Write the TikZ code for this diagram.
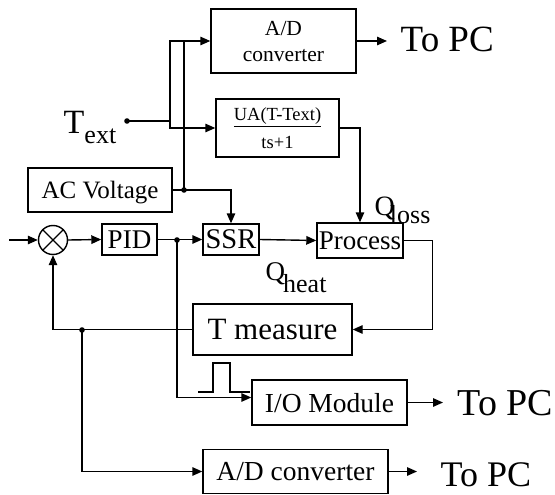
\documentclass[tikz,border=0pt]{standalone}
\usepackage{fontspec}
\setmainfont{Liberation Serif}
\usetikzlibrary{arrows.meta,calc}
\newcommand{\fsz}[1]{\fontsize{#1}{#1}\selectfont}
\begin{document}
\begin{tikzpicture}[x=1pt,y=-1pt,
  line width=1.4pt,
  arr/.style={-{Triangle[length=10pt,width=8.5pt]}},
  box/.style={draw,rectangle,inner sep=0pt,text depth=0pt,line width=1.4pt},
  lbl/.style={inner sep=0pt,anchor=base west}]
\useasboundingbox (0,0) rectangle (555,495);
% boxes
\node[box,minimum width=145,minimum height=64,align=center,font=\fontsize{21.5}{26}\selectfont] (ad1) at (283.5,41) {A/D\\converter};
\node[box,minimum width=123,minimum height=58,align=center,font=\fontsize{18.5}{28}\selectfont] (ua) at (277.5,128) {\underline{UA(T-Text)}\\ts+1};
\node[box,minimum width=144,minimum height=44,font=\fsz{25}] (ac) at (100,190) {AC Voltage};
\node[draw,circle,minimum size=29pt,inner sep=0pt] (sum) at (53,240) {};
\draw (sum.north west) -- (sum.south east) (sum.north east) -- (sum.south west);
\node[box,minimum width=55,minimum height=31,font=\fsz{27}] (pid) at (129.5,239.5) {PID};
\node[box,minimum width=56,minimum height=31,font=\fsz{28.5}] (ssr) at (231,239.5) {SSR};
\node[box,minimum width=86,minimum height=35,font=\fsz{27}] (proc) at (360,240.5) {Process};
\node[box,minimum width=159,minimum height=51,font=\fsz{31}] (tm) at (272.5,329.5) {T measure};
\node[box,minimum width=155,minimum height=45,font=\fsz{27.5}] (io) at (329.5,402.5) {I/O Module};
\node[box,minimum width=185,minimum height=44,font=\fsz{27.5}] (ad2) at (295.5,471.5) {A/D converter};
% labels
\node[lbl,font=\fsz{37}] (pc1) at (400,52) {To PC};
\node[lbl,font=\fsz{38}] (pc2) at (457,415) {To PC};
\node[lbl,font=\fsz{36}] (pc3) at (440,486) {To PC};
\node[lbl] (text) at (63,133) {\fsz{34}T\raisebox{-10pt}{\fsz{26}ext}};
\node[lbl] (qloss) at (374,215) {\fsz{28}Q\kern-5pt\raisebox{-8pt}{\fsz{26}loss}};
\node[lbl] (qheat) at (265,280) {\fsz{27}Q\kern-2pt\raisebox{-12pt}{\fsz{26}heat}};
% coordinates
\coordinate (tdot) at (127,121);
\coordinate (j1) at (170,121);
\coordinate (acdot) at (184,190);
\coordinate (pdot) at (177,240);
\coordinate (fdot) at (82,330);
\coordinate (in) at (9,240);
% wiring
\draw[arr] (tdot) -- (j1) |- (ad1.west);
\draw[arr] (j1) |- (ua.west);
\draw (acdot) -- (acdot |- ad1.west);
\draw[arr] (ac.east) -| (ssr.north);
\draw[arr] (ua.east) -| (proc.north);
\draw[arr] (in) -- (sum.west);
\draw[arr] (sum.east) -- (pid.west);
\draw[arr] (pid.east) -- (ssr.west);
\draw[arr] (ssr.east) -- (proc.west);
\draw[arr] (proc.east) -- ++(29,0) |- (tm.east);
\draw[arr] (tm.west) -| (sum.south);
\draw[arr] (fdot) |- (ad2.west);
\draw[arr] (pdot) |- ([yshift=5pt]io.west);
\draw[arr] (ad1.east) -- ($(ad1.east -| pc1.west)+(-13,0)$);
\draw[arr] (io.east) -- ($(io.east -| pc2.west)+(-14,0)$);
\draw[arr] (ad2.east) -- ($(ad2.east -| pc3.west)+(-23,0)$);
% pulse symbol
\draw[line width=1.2pt] (198,392) -- (213,392) -- (213,363) -- (230,363) -- (230,392) -- (250,392);
% dots
\fill (tdot) circle (2.8);
\fill (acdot) circle (2.8);
\fill (pdot) circle (2.8);
\fill (fdot) circle (2.8);
\end{tikzpicture}
\end{document}
